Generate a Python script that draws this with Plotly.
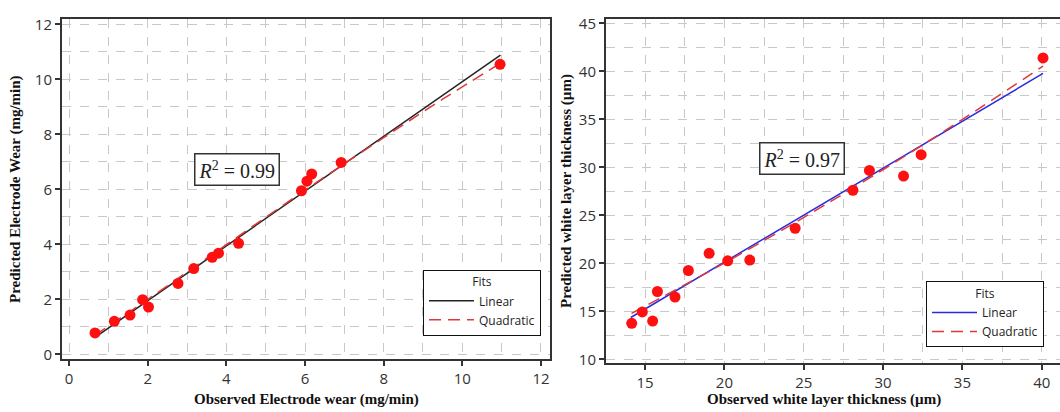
import plotly.graph_objects as go

# ---- Left panel: electrode wear ----
ew_observed = [0.66, 1.15, 1.55, 1.87, 2.02, 2.77, 3.17, 3.64, 3.80, 4.31, 5.91, 6.05, 6.17, 6.92, 10.96]
ew_predicted = [0.78, 1.20, 1.43, 1.99, 1.72, 2.58, 3.12, 3.53, 3.68, 4.04, 5.95, 6.30, 6.56, 6.98, 10.55]
ew_lin_x = [0.66, 10.97]
ew_lin_y = [0.62, 10.88]
ew_quad_x = [0.66, 2.0, 4.0, 6.0, 8.0, 9.5, 10.96]
ew_quad_y = [0.70, 2.00, 3.99, 5.97, 7.88, 9.28, 10.58]

# ---- Right panel: white layer thickness ----
wl_observed = [14.16, 14.83, 15.48, 15.78, 16.89, 17.73, 19.04, 20.21, 21.60, 24.46, 28.10, 29.14, 31.29, 32.40, 40.08]
wl_predicted = [13.75, 14.94, 13.99, 17.07, 16.49, 19.26, 21.05, 20.27, 20.34, 23.66, 27.62, 29.68, 29.10, 31.33, 41.41]
wl_lin_x = [14.10, 40.08]
wl_lin_y = [14.36, 39.79]
wl_quad_x = [14.15, 18.0, 22.0, 27.0, 32.0, 36.0, 40.08]
wl_quad_y = [14.80, 18.21, 21.91, 26.75, 31.83, 36.07, 40.56]

ew_ticks = [0, 2, 4, 6, 8, 10, 12]
wl_xticks = [15, 20, 25, 30, 35, 40]
wl_yticks = [10, 15, 20, 25, 30, 35, 40, 45]

RED = "#ff1010"
W, H = 1060, 412
DASH = "12px,7px"

fig = go.Figure()

fig.add_trace(go.Scatter(x=ew_lin_x, y=ew_lin_y, mode="lines", name="Linear",
                         line=dict(color="#222222", width=1.5), xaxis="x", yaxis="y", legend="legend"))
fig.add_trace(go.Scatter(x=ew_quad_x, y=ew_quad_y, mode="lines", name="Quadratic",
                         line=dict(color="#e0383a", width=1.5, dash=DASH, shape="spline"),
                         xaxis="x", yaxis="y", legend="legend"))
fig.add_trace(go.Scatter(x=ew_observed, y=ew_predicted, mode="markers", showlegend=False,
                         marker=dict(color=RED, size=11), xaxis="x", yaxis="y"))

fig.add_trace(go.Scatter(x=wl_lin_x, y=wl_lin_y, mode="lines", name="Linear",
                         line=dict(color="#2a2ae0", width=1.5), xaxis="x2", yaxis="y2", legend="legend2"))
fig.add_trace(go.Scatter(x=wl_quad_x, y=wl_quad_y, mode="lines", name="Quadratic",
                         line=dict(color="#e0383a", width=1.5, dash=DASH, shape="spline"),
                         xaxis="x2", yaxis="y2", legend="legend2"))
fig.add_trace(go.Scatter(x=wl_observed, y=wl_predicted, mode="markers", showlegend=False,
                         marker=dict(color=RED, size=11), xaxis="x2", yaxis="y2"))

tickfont = dict(family="Open Sans", size=15, color="#333333")
grid = dict(showgrid=True, gridcolor="#c8c8c8", griddash="dash", gridwidth=1)

def axis(rng, tickvals, minor_dtick, domain, anchor, mirror=True):
    return dict(range=rng, tickvals=tickvals, domain=domain, anchor=anchor,
                showline=True, linecolor="#333333", linewidth=2, mirror=mirror,
                ticks="outside", ticklen=5, tickcolor="#333333", tickwidth=1.5,
                tickfont=tickfont, zeroline=False,
                minor=dict(dtick=minor_dtick, showgrid=True, gridcolor="#c8c8c8",
                           griddash="dash", gridwidth=1, ticks=""),
                **grid)

yd = [1 - 363 / H, 1 - 13 / H]
yd2 = [1 - 367 / H, 1 - 13 / H]

legfont = dict(family="Open Sans", size=12, color="#222222")

fig.update_layout(
    width=W, height=H,
    margin=dict(l=0, r=0, t=0, b=0),
    paper_bgcolor="white", plot_bgcolor="white",
    xaxis=axis([-0.18, 12.23], ew_ticks, 1, [62 / W, 550 / W], "y"),
    yaxis=axis([-0.18, 12.21], ew_ticks, 1, yd, "x"),
    xaxis2=axis([12.54, 41.15], wl_xticks, 2.5, [606 / W, 1.0], "y2"),
    yaxis2=axis([9.6, 45.5], wl_yticks, 2.5, yd2, "x2", mirror=False),
    legend=dict(x=423 / W, y=1 - 271 / H, xanchor="left", yanchor="top",
                bgcolor="white", bordercolor="#111111", borderwidth=1,
                font=legfont, title=dict(text="Fits", side="top center", font=legfont),
                tracegroupgap=0, itemwidth=45),
    legend2=dict(x=926 / W, y=1 - 283 / H, xanchor="left", yanchor="top",
                 bgcolor="white", bordercolor="#111111", borderwidth=1,
                 font=legfont, title=dict(text="Fits", side="top center", font=legfont),
                 tracegroupgap=0, itemwidth=45),
)

title_font = dict(family="Liberation Serif", size=15, color="#111111")
common = dict(xref="paper", yref="paper", showarrow=False, xanchor="center", yanchor="middle")
annotations = [
    dict(text="<b>Observed Electrode wear (mg/min)</b>", x=306 / W, y=1 - 404 / H,
         font=title_font, **common),
    dict(text="<b>Predicted Electrode Wear (mg/min)</b>", x=16 / W, y=1 - 188 / H,
         font=title_font, textangle=-90, **common),
    dict(text="<b>Observed white layer thickness (µm)</b>", x=824 / W, y=1 - 404 / H,
         font=title_font, **common),
    dict(text="<b>Predicted white layer thickness (µm)</b>", x=567 / W, y=1 - 190 / H,
         font=title_font, textangle=-90, **common),
    dict(text="<i>R</i><sup>2</sup> = 0.99", x=237 / W, y=1 - 168 / H,
         font=dict(family="Liberation Serif", size=20, color="#222222"),
         bordercolor="#333333", borderwidth=1.5, borderpad=3, bgcolor="white", **common),
    dict(text="<i>R</i><sup>2</sup> = 0.97", x=802 / W, y=1 - 157 / H,
         font=dict(family="Liberation Serif", size=20, color="#222222"),
         bordercolor="#333333", borderwidth=1.5, borderpad=3, bgcolor="white", **common),
]
fig.update_layout(annotations=annotations)

fig.write_html("out.html")
